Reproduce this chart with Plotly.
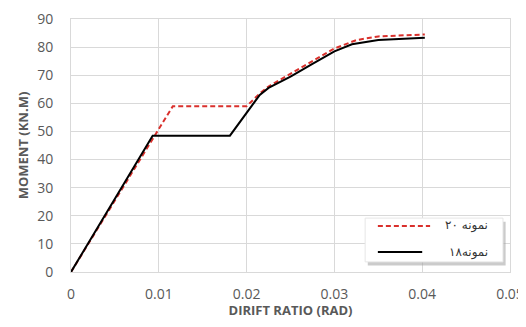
import plotly.graph_objects as go

# Drift ratio vs moment
drift_20 = [0, 0.0116, 0.0200, 0.0215, 0.0225, 0.0250, 0.0275, 0.0300, 0.0325, 0.0350, 0.0403]
moment_20 = [0, 59.0, 59.0, 63.5, 66.0, 70.5, 75.0, 79.5, 82.5, 83.8, 84.5]

drift_18 = [0, 0.0093, 0.0181, 0.0208, 0.0215, 0.0225, 0.0250, 0.0275, 0.0300, 0.0320, 0.0350, 0.0403]
moment_18 = [0, 48.5, 48.5, 60.0, 63.0, 65.5, 69.5, 74.0, 78.5, 81.0, 82.5, 83.3]

legend_labels = ["نمونه ۲۰", "نمونه۱۸"]
line_colors = ["#d9302c", "#000000"]

gray = "#595959"
grid = "#d9d9d9"
fig = go.Figure()
fig.add_trace(go.Scatter(x=drift_20, y=moment_20, mode="lines", name=legend_labels[0],
                         line=dict(color=line_colors[0], width=2, dash="5px,3px")))
fig.add_trace(go.Scatter(x=drift_18, y=moment_18, mode="lines", name=legend_labels[1],
                         line=dict(color=line_colors[1], width=2)))

# page body has an 8px margin, so the figure is sized/offset to compensate
fig.update_layout(
    width=518, height=311,
    margin=dict(l=63, r=16, t=11, b=47),
    paper_bgcolor="white", plot_bgcolor="white",
    showlegend=False,
    font=dict(family="Open Sans, DejaVu Sans", color=gray, size=14),
    xaxis=dict(range=[0, 0.05], dtick=0.01, showgrid=True, automargin=False,
               gridcolor=grid, gridwidth=1, zeroline=False,
               ticks="outside", ticklen=9, tickcolor="rgba(0,0,0,0)",
               ticklabeloverflow="allow",
               showline=True, linecolor=grid, mirror=True,
               title=dict(text="<b>DIRIFT RATIO (RAD)</b>", font=dict(size=13, color=gray), standoff=7),
               tickfont=dict(size=14, color=gray)),
    yaxis=dict(range=[0, 90], dtick=10, showgrid=True, gridcolor=grid, gridwidth=1,
               zeroline=False, automargin=False,
               ticks="outside", ticklen=14, tickcolor="rgba(0,0,0,0)",
               showline=True, linecolor=grid, mirror=True,
               title=dict(text="<b>MOMENT (KN.M)</b>", font=dict(size=13, color=gray), standoff=5),
               tickfont=dict(size=14, color=gray)),
)

# legend drawn by hand so the sample lines and right-aligned Persian text sit as in the source
x0, x1, y0, y1 = 0.670, 0.984, 0.040, 0.213
fig.add_shape(type="rect", xref="paper", yref="paper", x0=x0 + 0.006, x1=x1 + 0.006,
              y0=y0 - 0.014, y1=y1 - 0.014, fillcolor="#a0a0a0", line=dict(width=0), opacity=0.55)
fig.add_shape(type="rect", xref="paper", yref="paper", x0=x0, x1=x1, y0=y0, y1=y1,
              fillcolor="white", line=dict(color="#e6e6e6", width=1))
row_y = [0.182, 0.079]
line_end = [0.818, 0.800]
for i, (lab, col) in enumerate(zip(legend_labels, line_colors)):
    fig.add_shape(type="line", xref="paper", yref="paper", x0=0.699, x1=line_end[i],
                  y0=row_y[i], y1=row_y[i],
                  line=dict(color=col, width=2, dash="5px,3px" if i == 0 else "solid"))
    fig.add_annotation(xref="paper", yref="paper", x=0.954, y=row_y[i], text=lab, showarrow=False,
                       xanchor="right", yanchor="middle",
                       font=dict(family="DejaVu Sans", size=12, color="#333333"))

fig.write_html("out.html")
